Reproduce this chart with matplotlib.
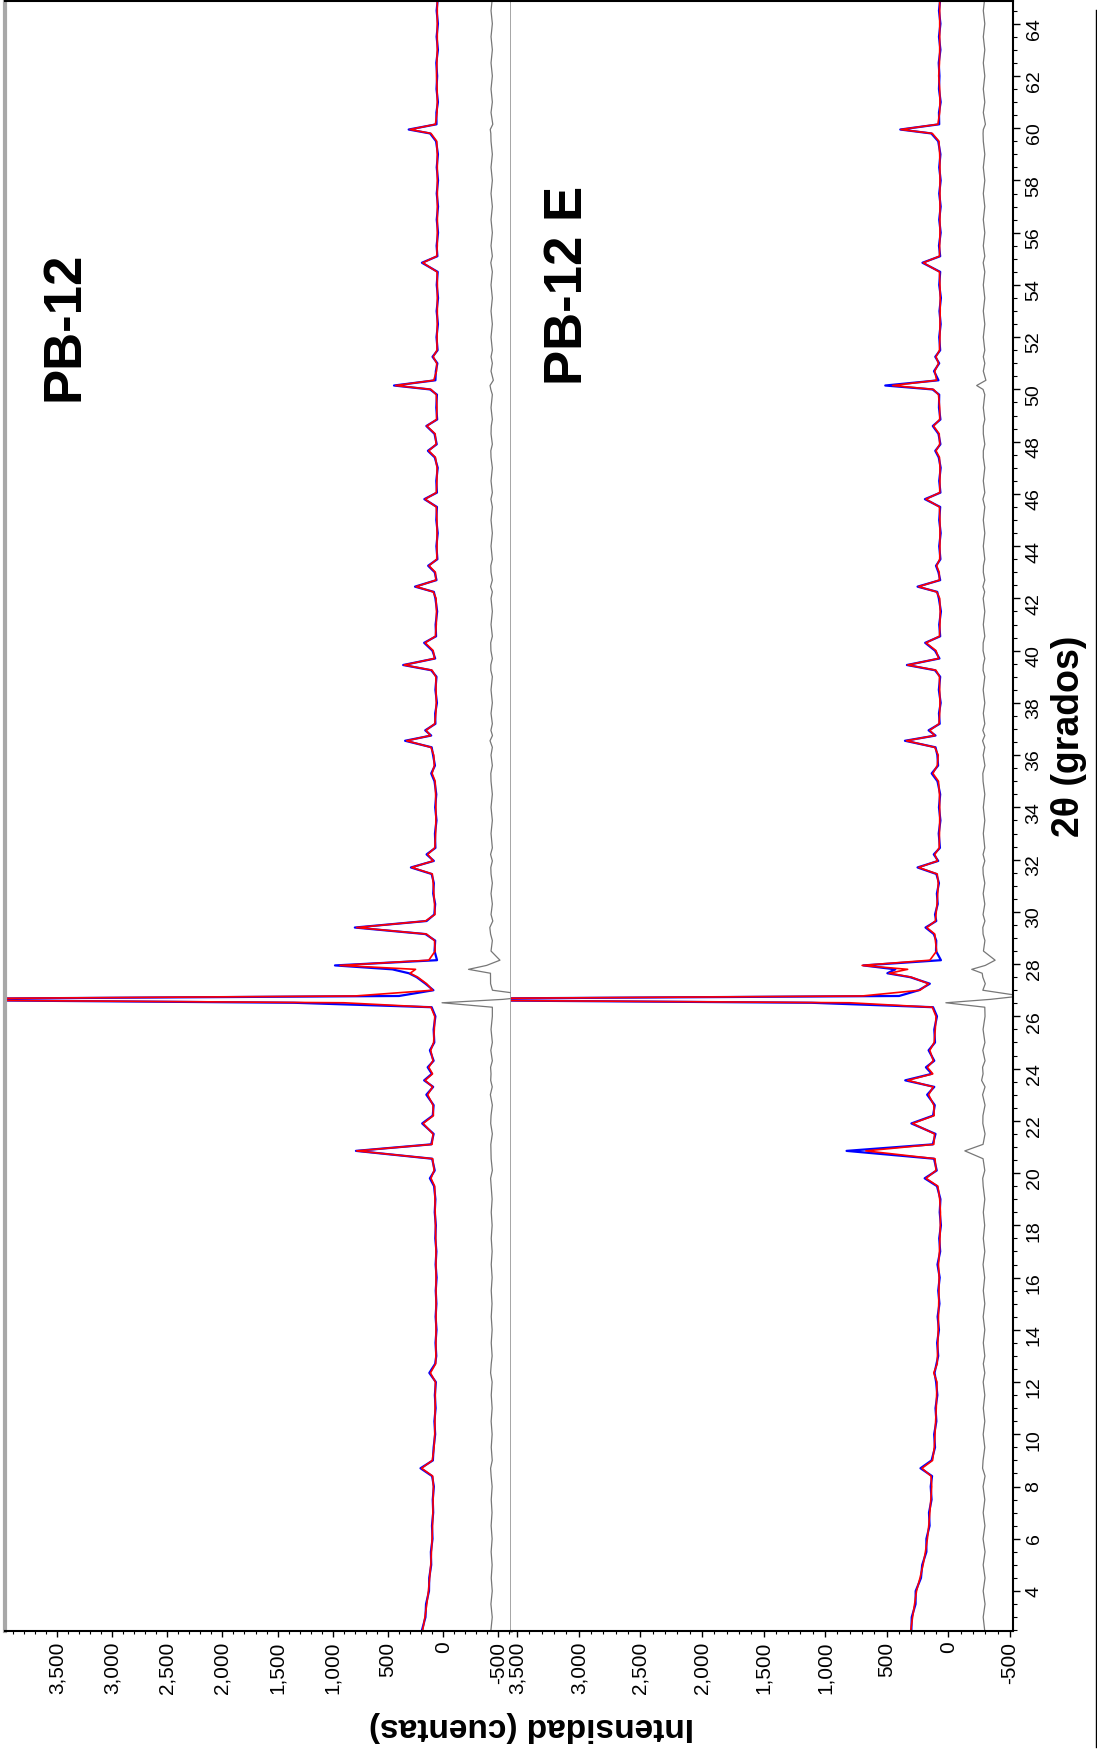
import matplotlib
matplotlib.use('Agg')
import matplotlib.pyplot as plt
from matplotlib.lines import Line2D
from matplotlib.ticker import MultipleLocator, FuncFormatter
import numpy as np

# 2-theta grid (degrees) shared by both patterns
two_theta = [
    2.5, 3.0, 3.5, 4.0, 4.5, 5.0, 5.5, 6.0, 6.5, 7.0,
    7.5, 8.0, 8.4, 8.7, 9.0, 9.5, 10.0, 10.5, 11.0, 11.5,
    12.0, 12.35, 12.7, 13.0, 13.5, 14.0, 14.5, 15.0, 15.5, 16.0,
    16.5, 17.0, 17.5, 18.0, 18.5, 19.0, 19.5, 19.8, 20.1, 20.55,
    20.85, 21.1, 21.5, 21.9, 22.2, 22.6, 23.0, 23.3, 23.55, 23.8,
    24.05, 24.3, 24.7, 25.0, 25.5, 26.0, 26.35, 26.52, 26.65, 26.78,
    27.0, 27.25, 27.5, 27.65, 27.8, 27.95, 28.15, 28.5, 28.9, 29.15,
    29.4, 29.65, 29.9, 30.3, 30.7, 31.1, 31.45, 31.7, 31.95, 32.2,
    32.45, 33.0, 33.5, 34.0, 34.5, 35.0, 35.3, 35.6, 36.0, 36.3,
    36.55, 36.75, 36.95, 37.2, 37.6, 38.0, 38.5, 39.0, 39.25, 39.45,
    39.7, 40.0, 40.3, 40.55, 41.0, 41.5, 42.0, 42.25, 42.45, 42.7,
    43.0, 43.25, 43.5, 44.0, 44.5, 45.0, 45.5, 45.8, 46.05, 46.5,
    47.0, 47.4, 47.65, 47.9, 48.3, 48.6, 48.85, 49.3, 49.8, 50.0,
    50.15, 50.35, 50.7, 51.0, 51.25, 51.5, 52.0, 52.5, 53.0, 53.5,
    54.0, 54.5, 54.85, 55.1, 55.5, 56.0, 56.5, 57.0, 57.5, 58.0,
    58.5, 59.0, 59.5, 59.8, 59.95, 60.15, 60.6, 61.0, 61.5, 62.0,
    62.5, 63.0, 63.5, 64.0, 64.5, 65.0,
]

# PB-12: calculated and observed counts
pb12_calc = [
    185, 165, 148, 133, 122, 112, 106, 100, 96, 93,
    90, 88, 95, 195, 98, 82, 76, 74, 72, 71,
    70, 115, 68, 66, 65, 64, 64, 64, 63, 63,
    64, 65, 67, 70, 72, 74, 77, 110, 82, 95,
    783, 100, 92, 181, 88, 92, 140, 95, 163, 96,
    130, 92, 112, 86, 80, 76, 110, 900, 5400, 800,
    95, 150, 230, 299, 250, 934, 130, 72, 78, 150,
    783, 160, 74, 78, 84, 90, 98, 284, 90, 140,
    76, 68, 66, 66, 68, 72, 100, 80, 85, 110,
    330, 115, 155, 76, 66, 62, 64, 66, 100, 354,
    78, 90, 163, 70, 62, 60, 64, 90, 245, 66,
    70, 128, 58, 55, 55, 56, 62, 163, 62, 56,
    55, 70, 130, 64, 72, 148, 60, 56, 62, 110,
    430, 85, 60, 58, 90, 56, 54, 53, 53, 52,
    52, 55, 184, 58, 53, 52, 52, 52, 52, 52,
    52, 53, 58, 110, 299, 70, 55, 53, 54, 60,
    56, 53, 53, 53, 53, 53,
]
pb12_obs = [
    192, 160, 155, 128, 126, 108, 111, 96, 101, 90,
    94, 84, 100, 205, 93, 86, 72, 79, 68, 75,
    66, 125, 72, 62, 69, 60, 68, 61, 67, 59,
    68, 61, 71, 66, 76, 70, 82, 120, 76, 100,
    790, 108, 86, 190, 94, 86, 152, 90, 172, 102,
    140, 86, 120, 80, 86, 70, 104, 1350, 5300, 400,
    88, 160, 240, 310, 460, 980, 55, 78, 72, 160,
    800, 150, 80, 72, 90, 84, 104, 292, 84, 150,
    70, 74, 60, 72, 62, 78, 108, 74, 91, 104,
    345, 108, 162, 70, 72, 56, 70, 60, 108, 362,
    72, 97, 172, 64, 68, 54, 70, 84, 255, 60,
    76, 136, 52, 61, 49, 62, 56, 170, 56, 62,
    49, 76, 138, 58, 78, 152, 54, 62, 56, 118,
    445, 70, 66, 52, 96, 50, 60, 47, 59, 46,
    58, 49, 192, 52, 59, 46, 58, 46, 58, 46,
    58, 47, 64, 118, 312, 60, 61, 47, 60, 54,
    62, 47, 59, 47, 59, 47,
]

# PB-12 E: calculated and observed counts
pb12e_calc = [
    305, 290, 274, 258, 230, 205, 186, 170, 159, 150,
    142, 135, 140, 214, 128, 114, 108, 103, 98, 95,
    92, 118, 90, 88, 85, 82, 80, 78, 76, 75,
    80, 72, 68, 65, 64, 70, 85, 181, 100, 108,
    670, 118, 112, 290, 115, 118, 160, 122, 330, 126,
    170, 122, 150, 115, 106, 100, 130, 800, 5000, 700,
    230, 160, 300, 480, 330, 700, 150, 95, 105, 110,
    175, 105, 100, 92, 86, 82, 90, 241, 88, 110,
    74, 72, 70, 70, 72, 80, 125, 90, 82, 110,
    340, 110, 150, 76, 70, 68, 70, 72, 100, 330,
    78, 100, 181, 72, 68, 66, 70, 95, 241, 72,
    74, 95, 70, 68, 68, 68, 72, 181, 70, 68,
    68, 72, 100, 70, 74, 120, 70, 70, 80, 120,
    452, 95, 110, 80, 100, 72, 68, 68, 66, 66,
    68, 72, 203, 72, 70, 68, 68, 68, 68, 68,
    68, 70, 76, 130, 384, 85, 70, 68, 70, 78,
    72, 70, 70, 70, 70, 70,
]
pb12e_obs = [
    300, 297, 266, 265, 222, 212, 178, 178, 152, 157,
    136, 143, 132, 226, 136, 108, 115, 97, 104, 89,
    99, 112, 96, 82, 91, 76, 87, 72, 82, 70,
    88, 66, 74, 60, 70, 64, 92, 192, 94, 116,
    826, 126, 104, 300, 124, 110, 172, 114, 350, 134,
    182, 114, 160, 108, 114, 92, 124, 1110, 4950, 400,
    240, 150, 310, 495, 430, 690, 60, 100, 98, 118,
    185, 98, 108, 86, 93, 76, 97, 250, 82, 118,
    68, 78, 64, 76, 66, 88, 135, 83, 89, 104,
    352, 104, 160, 70, 76, 62, 77, 66, 108, 336,
    72, 108, 188, 66, 74, 60, 77, 90, 250, 66,
    80, 100, 64, 74, 62, 74, 66, 190, 64, 74,
    62, 78, 106, 64, 80, 126, 64, 76, 74, 128,
    512, 80, 116, 74, 106, 66, 74, 62, 72, 60,
    74, 66, 210, 66, 76, 62, 74, 62, 74, 62,
    74, 64, 82, 138, 390, 74, 76, 62, 76, 72,
    78, 64, 76, 64, 76, 64,
]

# offsets of the difference curves
pb12_diff_offset = -440
pb12e_diff_offset = -290

plt.rcParams['font.family'] = ['Liberation Sans', 'DejaVu Sans']

W, H = 1097, 1765
fig = plt.figure(figsize=(W / 100, H / 100), dpi=100)


def panel(x0, width, calc, obs, offset, xlim):
    ax = fig.add_axes([x0 / W, 133 / H, width / W, 1630 / H])
    tt = np.array(two_theta)
    calc = np.array(calc, dtype=float)
    obs = np.array(obs, dtype=float)
    # pattern is drawn sideways: counts along x, 2-theta along y
    ax.plot(obs, tt, color='blue', lw=1.6)
    ax.plot(calc, tt, color='red', lw=1.2)
    ax.plot(obs - calc + offset, tt, color='#777777', lw=0.9)
    ax.set_xlim(*xlim)
    ax.set_ylim(2.47, 64.87)

    ax.xaxis.set_major_locator(MultipleLocator(500))
    ax.xaxis.set_minor_locator(MultipleLocator(100))
    ax.xaxis.set_major_formatter(FuncFormatter(lambda v, p: f'{int(round(v)):,}'))
    ax.tick_params(axis='x', which='major', direction='out', length=4,
                   width=1, labelsize=15, labelrotation=90, pad=3)
    ax.tick_params(axis='x', which='minor', direction='out', length=2, width=0.8)
    ax.tick_params(axis='y', which='both', left=False, labelleft=False)
    for s in ('top', 'bottom'):
        ax.spines[s].set_color('black')
        ax.spines[s].set_linewidth(1.5)
    return ax


ax1 = panel(5, 506, pb12_calc, pb12_obs, pb12_diff_offset, (3970, -615))
ax2 = panel(511, 502, pb12e_calc, pb12e_obs, pb12e_diff_offset, (3550, -525))

ax1.spines['left'].set_color('#a8a8a8')
ax1.spines['left'].set_linewidth(3)
ax1.spines['right'].set_color('#8a8a8a')
ax1.spines['right'].set_linewidth(1.8)
ax2.spines['left'].set_visible(False)
ax2.spines['right'].set_color('black')
ax2.spines['right'].set_linewidth(1.5)

ax2.yaxis.tick_right()
ax2.yaxis.set_major_locator(MultipleLocator(2))
ax2.yaxis.set_minor_locator(MultipleLocator(0.5))
ax2.tick_params(axis='y', which='major', right=True, labelright=True,
                direction='out', length=5, width=1, labelsize=14,
                labelrotation=90, pad=4)
ax2.tick_params(axis='y', which='minor', right=True, direction='out',
                length=3, width=0.8)

fig.text(64 / W, 1 - 326 / H, 'PB-12', rotation=90, fontsize=38,
         fontweight='bold', ha='center', va='center')
fig.text(568 / W, 1 - 285 / H, 'PB-12 E', rotation=90, fontsize=38,
         fontweight='bold', ha='center', va='center')
fig.text(1069 / W, 1 - 736 / H, '2θ (grados)', rotation=90, fontsize=27,
         fontweight='bold', ha='center', va='center')
fig.text(531 / W, 1 - 1727 / H, 'Intensidad (cuentas)', rotation=180,
         fontsize=24, fontweight='bold', ha='center', va='center')

# thin frame line on the right edge
fig.add_artist(Line2D([1 - 0.6 / W] * 2, [1 - 11 / H, 1 - 1748 / H],
                      color='black', lw=1, transform=fig.transFigure))

fig.savefig('out.png', dpi=100)
